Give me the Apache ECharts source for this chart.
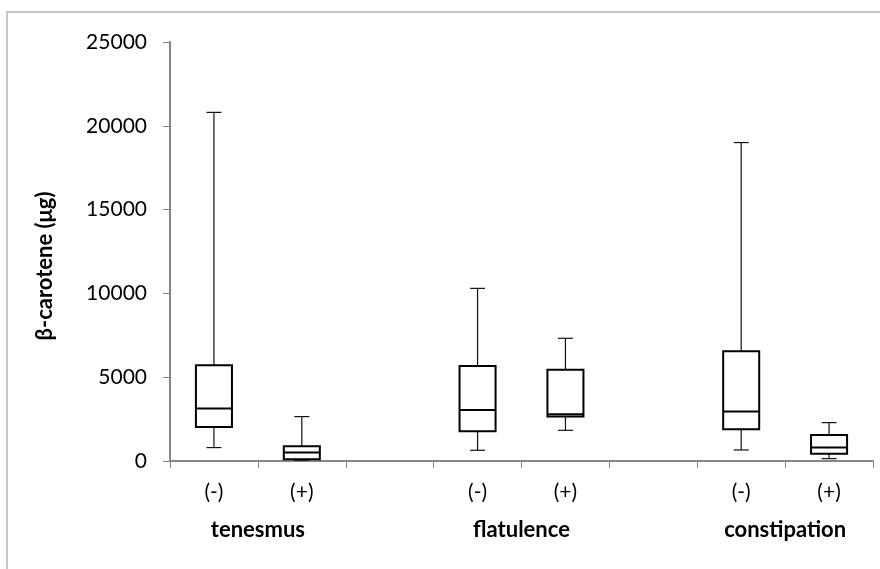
<!DOCTYPE html>
<html>
<head>
<meta charset="utf-8">
<script src="https://cdn.jsdelivr.net/npm/echarts@6/dist/echarts.min.js"></script>
<style>
  html, body { margin: 0; padding: 0; background: #fff; }
  #chart { width: 880px; height: 569px; }
</style>
</head>
<body>
<div id="chart"></div>
<script>
// categories on the x axis, blank slots separate the groups
const categories = ['(-)', '(+)', '', '(-)', '(+)', '', '(-)', '(+)'];
const groupNames = ['tenesmus', 'flatulence', 'constipation'];
const groupSlots = [[0, 1], [3, 4], [6, 7]];

// box plot values per category (null = empty slot)
const minVals    = [800,   50,   null, 640,   1830, null, 660,   140];
const q1Vals     = [2030,  100,  null, 1770,  2650, null, 1890,  440];
const medianVals = [3130,  500,  null, 3040,  2790, null, 2950,  800];
const q3Vals     = [5710,  880,  null, 5670,  5450, null, 6550,  1550];
const maxVals    = [20800, 2650, null, 10300, 7320, null, 19000, 2290];

const yTicks = { min: 0, max: 25000, interval: 5000 };

const fontFamily = 'Lato, "Open Sans", sans-serif';
const axisGray = '#868686';

let boxData = [];
for (let i = 0; i < categories.length; i++) {
    if (minVals[i] === null) continue;
    boxData.push([i, minVals[i], q1Vals[i], medianVals[i], q3Vals[i], maxVals[i]]);
}

function renderBox(params, api) {
    let idx = api.value(0);
    let x = api.coord([idx, 0])[0];
    let band = api.size([1, 0])[0];
    let boxW = band * 0.41;
    let capW = band * 0.17;
    let yMin = api.coord([idx, api.value(1)])[1];
    let yQ1 = api.coord([idx, api.value(2)])[1];
    let yMed = api.coord([idx, api.value(3)])[1];
    let yQ3 = api.coord([idx, api.value(4)])[1];
    let yMax = api.coord([idx, api.value(5)])[1];
    let thin = { stroke: '#111', lineWidth: 1.2 };
    let thick = { stroke: '#000', lineWidth: 2, fill: 'none' };
    return {
        type: 'group',
        children: [
            { type: 'line', shape: { x1: x, y1: yQ3, x2: x, y2: yMax }, style: thin },
            { type: 'line', shape: { x1: x, y1: yQ1, x2: x, y2: yMin }, style: thin },
            { type: 'line', shape: { x1: x - capW / 2, y1: yMax, x2: x + capW / 2, y2: yMax }, style: thin },
            { type: 'line', shape: { x1: x - capW / 2, y1: yMin, x2: x + capW / 2, y2: yMin }, style: thin },
            { type: 'rect', shape: { x: x - boxW / 2, y: yQ3, width: boxW, height: yQ1 - yQ3 }, style: thick },
            { type: 'line', shape: { x1: x - boxW / 2, y1: yMed, x2: x + boxW / 2, y2: yMed }, style: { stroke: '#000', lineWidth: 2 } }
        ]
    };
}

let chart = echarts.init(document.getElementById('chart'), null, { renderer: 'canvas' });

let option = {
    animation: false,
    backgroundColor: '#fff',
    grid: { left: 170, right: 7, top: 42, bottom: 108 },
    xAxis: {
        type: 'category',
        data: categories,
        boundaryGap: true,
        axisLine: { lineStyle: { color: axisGray, width: 2 } },
        axisTick: { show: true, length: 7, inside: false, lineStyle: { color: axisGray, width: 1 } },
        axisLabel: { color: '#000', fontSize: 21, fontFamily: fontFamily, margin: 21, interval: 0 },
        splitLine: { show: false }
    },
    yAxis: {
        type: 'value',
        min: yTicks.min,
        max: yTicks.max,
        interval: yTicks.interval,
        axisLine: { show: true, lineStyle: { color: axisGray, width: 2 } },
        axisTick: { show: true, length: 7, lineStyle: { color: axisGray, width: 1 } },
        axisLabel: {
            color: '#000', fontSize: 21, fontFamily: fontFamily, margin: 23,
            formatter: function (v) { return String(v); }
        },
        splitLine: { show: false }
    },
    series: [{
        type: 'custom',
        renderItem: renderBox,
        encode: { x: 0, y: [1, 2, 3, 4, 5] },
        data: boxData
    }]
};

chart.setOption(option);

// frame, axis title and group labels positioned from the axis scale
let graphics = [
    {
        type: 'rect',
        shape: { x: 7, y: 12, width: 1000, height: 1000 },
        style: { fill: 'none', stroke: '#b4b4b4', lineWidth: 1.5 },
        silent: true
    },
    {
        type: 'text',
        x: 45,
        y: 266,
        rotation: Math.PI / 2,
        style: {
            text: 'β-carotene (μg)',
            font: 'bold 22px ' + fontFamily,
            fill: '#000',
            align: 'center',
            verticalAlign: 'middle'
        }
    }
];
groupSlots.forEach(function (slots, g) {
    let p0 = chart.convertToPixel({ xAxisIndex: 0 }, slots[0]);
    let p1 = chart.convertToPixel({ xAxisIndex: 0 }, slots[1]);
    graphics.push({
        type: 'text',
        x: (p0 + p1) / 2,
        y: 530,
        style: {
            text: groupNames[g],
            font: 'bold 22px ' + fontFamily,
            fill: '#000',
            align: 'center',
            verticalAlign: 'middle'
        }
    });
});
chart.setOption({ graphic: graphics });
</script>
</body>
</html>
